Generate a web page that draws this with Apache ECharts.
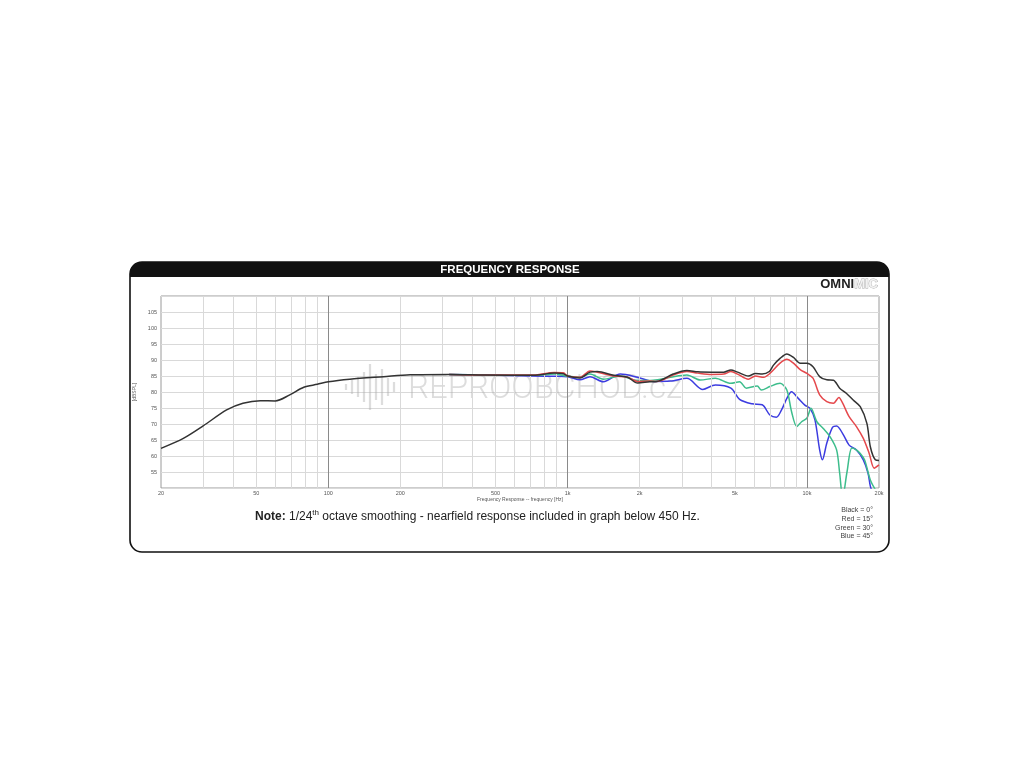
<!DOCTYPE html>
<html><head><meta charset="utf-8">
<script src="https://cdn.jsdelivr.net/npm/echarts@6/dist/echarts.min.js"></script>
<style>html,body{margin:0;padding:0;background:#fff}#c{width:1024px;height:768px}</style>
</head><body><div id="c"></div>
<script>
// ---- data ----
const xTickLabels = [20, 50, 100, 200, 500, 1000, 2000, 5000, 10000, 20000];
const minorGrid = [30,40,50,60,70,80,90,200,300,400,500,600,700,800,900,2000,3000,4000,5000,6000,7000,8000,9000];
const majorGrid = [100, 1000, 10000];
const legendLines = ['Black = 0°', 'Red = 15°', 'Green = 30°', 'Blue = 45°'];

const blackFreq = [20,24.8,30,37.6,44,52,60,69,79,90,100,123,170,220,320,450,720,880,960,1000,1126,1240,1330,1560,1780,1960,2200,2360,2760,3150,3500,4000,4490,4810,5130,5690,6090,6500,6960,7250,7720,8240,8780,9370,10000,10600,11300,12100,12900,13700,14600,15600,16700,17800,18400,19300,20000];
const blackDb   = [62.4,65.5,69.4,74.4,76.5,77.3,77.2,79.1,81.5,82.4,83.2,84.0,84.8,85.4,85.5,85.3,85.2,85.9,85.7,85.0,84.4,86.2,86.4,85.2,84.6,82.8,83.2,83.3,85.6,86.7,86.3,86.2,86.2,86.9,86.2,85.0,85.8,85.6,86.4,88.4,90.5,91.9,90.8,89.0,89.0,87.9,84.8,83.8,83.7,81.2,79.6,77.5,75.4,70.2,62.9,58.8,58.6];

const redFreq = [320,450,720,880,960,1000,1126,1240,1330,1560,1780,1960,2200,2360,2760,3150,3500,4000,4490,4810,5130,5690,6090,6600,7000,7720,8240,8780,9370,10000,10600,11300,12100,12900,13600,14100,15000,16100,17200,18200,19100,20000];
const redDb   = [85.5,85.3,85.3,86.1,86.0,85.0,84.6,86.6,86.2,85.0,84.6,83.3,83.4,83.3,85.3,86.4,85.9,85.5,85.6,86.4,85.6,84.0,85.0,84.6,85.8,89.0,90.2,89.0,87.0,85.8,84.3,79.1,77.0,76.5,78.3,76.5,72.3,69.2,65.5,60.8,56.2,57.2];

const greenFreq = [320,450,720,880,1000,1126,1240,1410,1660,1960,2280,2690,3150,3580,4140,4810,5230,5580,6200,6450,7000,7720,8240,8620,9070,9500,9990,10400,11000,11700,12500,13300,13700,14100,14700,15400,16000,16700,17400,18400,19300,20000];
const greenDb   = [85.5,85.3,85.2,85.6,84.9,84.7,85.6,84.0,85.0,83.6,83.7,84.6,85.3,83.75,84.3,82.7,83.2,81.2,81.9,80.6,81.7,82.7,80.6,73.9,69.2,70.7,71.8,74.9,70.7,68.6,66.0,61.9,54.6,47.0,55.0,62.5,62.0,60.8,58.8,52.5,49.5,48.0];

const blueFreq = [320,450,720,900,1000,1126,1240,1410,1660,1960,2280,2690,3150,3670,4140,4810,5230,5900,6500,7000,7450,7830,8240,8620,9200,9800,10300,10800,11300,11600,12100,12800,13300,14200,15000,16100,17200,18000,18400,18900];
const blueDb   = [85.5,85.3,85.0,84.9,84.8,83.8,84.8,83.2,85.6,84.6,83.3,83.4,84.3,80.8,82.2,81.2,77.7,76.3,76.0,72.8,72.1,74.4,78.0,80.1,78.0,75.9,74.9,71.3,61.9,58.8,64.0,69.0,69.4,66.6,63.4,61.9,58.8,54.6,50.6,48.0];

const pairs = (f, d) => f.map((v, i) => [v, d[i]]);
const fmtHz = v => v >= 1000 ? (v / 1000) + 'k' : String(v);

const chart = echarts.init(document.getElementById('c'), null, {renderer: 'canvas'});
const lineSeries = (name, color, f, d, z) => ({
  name, type: 'line', data: pairs(f, d), showSymbol: false, smooth: 0.3,
  clip: true, z, lineStyle: {color, width: 1.5}, itemStyle: {color}, animation: false
});

const waveBars = [[346,6],[352,14],[358,20],[364,30],[370,46],[376,26],[382,36],[388,18],[394,10]];

chart.setOption({
  backgroundColor: '#fff',
  animation: false,
  grid: {left: 161, right: 145, top: 296, height: 192, show: true, borderColor: '#9a9a9a', borderWidth: 1, backgroundColor: 'transparent'},
  xAxis: {
    type: 'log', min: 20, max: 20000, logBase: 10,
    axisLine: {show: false}, axisTick: {show: false}, splitLine: {show: false},
    axisLabel: {customValues: xTickLabels, formatter: v => fmtHz(v), fontSize: 5.5, color: '#555', margin: 2, fontFamily: 'Liberation Sans'},
    name: 'Frequency Response -- frequency [Hz]', nameLocation: 'middle', nameGap: 9,
    nameTextStyle: {fontSize: 5, color: '#555', fontFamily: 'Liberation Sans'}
  },
  yAxis: {
    type: 'value', min: 50, max: 110, interval: 5,
    axisLine: {show: false}, axisTick: {show: false},
    splitLine: {show: true, lineStyle: {color: '#d9d9d9', width: 1}},
    axisLabel: {formatter: v => (v === 50 || v === 110) ? '' : String(v), fontSize: 5.5, color: '#555', margin: 4, fontFamily: 'Liberation Sans'},
    name: '[dBSPL]', nameLocation: 'middle', nameGap: 13, nameRotate: 90,
    nameTextStyle: {fontSize: 5, color: '#555', fontFamily: 'Liberation Sans'}
  },
  series: [
    {
      type: 'line', data: [[20, 50]], showSymbol: false, lineStyle: {opacity: 0}, z: 1, silent: true,
      markLine: {
        silent: true, symbol: ['none', 'none'], label: {show: false}, animation: false,
        data: minorGrid.map(v => ({xAxis: v, lineStyle: {color: '#d9d9d9', width: 1, type: 'solid'}}))
          .concat(majorGrid.map(v => ({xAxis: v, lineStyle: {color: '#8a8a8a', width: 1, type: 'solid'}})))
      }
    },
    lineSeries('Blue = 45°', '#3c3ce0', blueFreq, blueDb, 3),
    lineSeries('Green = 30°', '#3dbd8c', greenFreq, greenDb, 4),
    lineSeries('Red = 15°', '#e5484c', redFreq, redDb, 5),
    lineSeries('Black = 0°', '#333333', blackFreq, blackDb, 6)
  ],
  graphic: [
    // watermark
    {type: 'text', left: 408, top: 373, z: 2, silent: true,
     style: {text: 'REPROOBCHOD.cz', fontSize: 33, fontWeight: 300, fontFamily: 'Roboto', fill: 'rgba(170,170,170,0.4)'}},
    ...waveBars.map(b => ({type: 'line', z: 2, silent: true,
      shape: {x1: b[0], y1: 387 - b[1] / 2, x2: b[0], y2: 387 + b[1] / 2},
      style: {stroke: 'rgba(170,170,170,0.4)', lineWidth: 2.2}})),
    // frame
    {type: 'rect', z: 10, silent: true, shape: {x: 130, y: 262, width: 759, height: 290, r: 12},
     style: {fill: 'none', stroke: '#111', lineWidth: 1.6}},
    {type: 'rect', z: 10, silent: true, shape: {x: 130, y: 262, width: 759, height: 15, r: [12, 12, 0, 0]},
     style: {fill: '#111'}},
    {type: 'text', z: 11, silent: true, x: 510, y: 270,
     style: {text: 'FREQUENCY RESPONSE', fill: '#fff', fontSize: 11.5, fontWeight: 'bold', fontFamily: 'Liberation Sans', align: 'center', verticalAlign: 'middle'}},
    {type: 'text', z: 11, silent: true, x: 878, y: 284,
     style: {text: '{a|OMNI}{b|MIC}', align: 'right', verticalAlign: 'middle',
       rich: {a: {fontSize: 13, fontWeight: 900, fontFamily: 'Liberation Sans', fill: '#222'},
              b: {fontSize: 13, fontWeight: 900, fontFamily: 'Liberation Sans', fill: '#f2f2f2', stroke: '#aaa', lineWidth: 0.8}}}},
    // note
    {type: 'text', z: 11, silent: true, x: 255, y: 517,
     style: {text: '{b|Note:}{n| 1/24}{s|th}{n| octave smoothing - nearfield response included in graph below 450 Hz.}',
       verticalAlign: 'middle',
       rich: {b: {fontSize: 12, fontWeight: 'bold', fontFamily: 'Liberation Sans', fill: '#222', lineHeight: 16},
              n: {fontSize: 12, fontFamily: 'Liberation Sans', fill: '#222', lineHeight: 16},
              s: {fontSize: 8, fontFamily: 'Liberation Sans', fill: '#222', lineHeight: 8, verticalAlign: 'top'}}}},
    // legend text
    {type: 'text', z: 11, silent: true, x: 873, y: 506,
     style: {text: legendLines.join('\n'), align: 'right', verticalAlign: 'top', fontSize: 7, lineHeight: 8.7, fontFamily: 'Liberation Sans', fill: '#444'}}
  ]
});
</script></body></html>
